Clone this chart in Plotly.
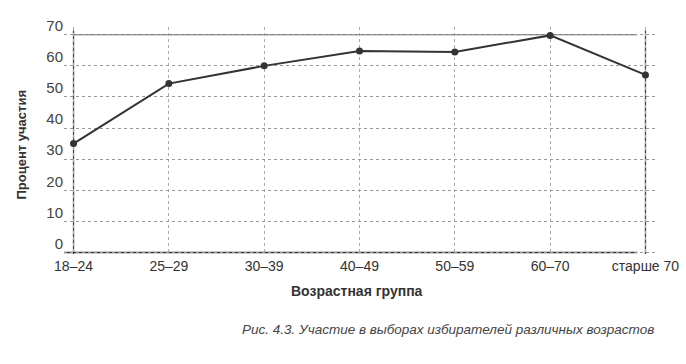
import plotly.graph_objects as go

categories = ["18–24", "25–29", "30–39", "40–49", "50–59", "60–70", "старше 70"]
turnout = [35.0, 54.3, 60.0, 64.8, 64.5, 69.8, 57.1]
y_ticks = [0, 10, 20, 30, 40, 50, 60, 70]

FONT = "Liberation Sans, Arial, sans-serif"
x_idx = list(range(len(categories)))

fig = go.Figure()
fig.add_trace(go.Scatter(
    x=x_idx, y=turnout, mode="lines+markers",
    line=dict(color="#333333", width=2),
    marker=dict(color="#333333", size=7),
    showlegend=False, hoverinfo="skip",
))

# solid frame lines
solid = dict(color="#444444", width=1.3)
fig.add_shape(type="line", xref="x", yref="paper", x0=0, x1=0, y0=0, y1=0.985, line=solid, layer="below")
fig.add_shape(type="line", xref="x", yref="paper", x0=len(categories) - 1, x1=len(categories) - 1, y0=0, y1=0.985, line=solid, layer="below")
fig.add_shape(type="line", xref="paper", yref="y", x0=0, x1=0.97, y0=0, y1=0, line=dict(color="#333333", width=1.6), layer="below")
fig.add_shape(type="line", xref="paper", yref="y", x0=0.015, x1=0.97, y0=70, y1=70, line=dict(color="#555555", width=1.2), layer="below")

fig.update_layout(
    template="none",
    width=686, height=364, autosize=False,
    margin=dict(l=64, r=31, t=27, b=110, pad=0),
    paper_bgcolor="white", plot_bgcolor="white",
    font=dict(family=FONT, size=14, color="#333333"),
    xaxis=dict(
        range=[-0.1, len(categories) - 0.9], automargin=False,
        tickmode="array", tickvals=x_idx, ticktext=categories,
        showgrid=True, gridcolor="#aaaaaa", griddash="dot", gridwidth=1,
        zeroline=False, showline=False, ticks="",
        ticklabelstandoff=2,
        tickfont=dict(size=14, color="#333333"),
    ),
    yaxis=dict(
        range=[-0.5, 72.5], automargin=False,
        tickmode="array", tickvals=y_ticks,
        showgrid=True, gridcolor="#999999", griddash="dot", gridwidth=1,
        zeroline=False, showline=False, ticks="",
        ticklabelshift=-9, ticklabelstandoff=0,
        tickfont=dict(size=15, color="#444444"),
    ),
    annotations=[
        dict(text="<b>Процент участия</b>", xref="paper", yref="paper",
             x=-0.072, y=0.48, xanchor="center", yanchor="middle",
             textangle=-90, showarrow=False, font=dict(size=13, color="#333333")),
        dict(text="<b>Возрастная группа</b>", xref="paper", yref="paper",
             x=0.496, y=-0.164, xanchor="center", yanchor="middle",
             showarrow=False, font=dict(size=14, color="#333333")),
        dict(text="<i>Рис. 4.3. Участие в выборах избирателей различных возрастов</i>",
             xref="paper", yref="paper", x=0.649, y=-0.331,
             xanchor="center", yanchor="middle", showarrow=False,
             font=dict(size=13.5, color="#444444")),
    ],
)

fig.write_html("out.html")
